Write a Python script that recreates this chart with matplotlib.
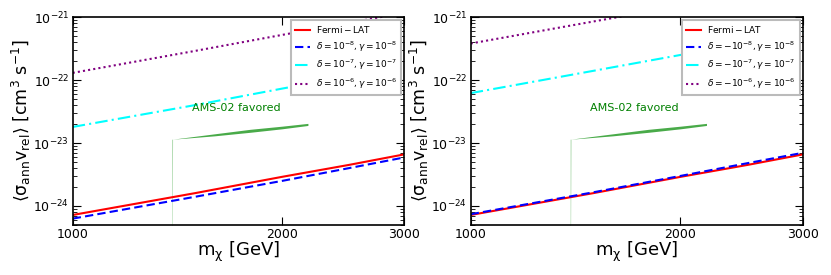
import numpy as np
import matplotlib
matplotlib.use("Agg")
import matplotlib.pyplot as plt
from matplotlib.ticker import FixedLocator, NullLocator, FixedFormatter, LogFormatterMathtext

# masses [GeV]
mass = [1000, 1500, 2000, 2500, 3000]

# left panel (delta > 0)
fermi = [7.2e-25, 1.6e-24, 2.9e-24, 4.5e-24, 6.6e-24]
left_d8 = [6.3e-25, 1.4e-24, 2.5e-24, 4.0e-24, 5.9e-24]
left_d7 = [1.8e-23, 4.0e-23, 7.3e-23, 1.15e-22, 1.7e-22]
left_d6 = [1.3e-22, 2.9e-22, 5.2e-22, 8.1e-22, 1.17e-21]

# right panel (delta < 0)
right_d8 = [7.4e-25, 1.65e-24, 3.0e-24, 4.8e-24, 7.0e-24]
right_d7 = [6.2e-23, 1.4e-22, 2.5e-22, 3.9e-22, 5.7e-22]
right_d6 = [3.8e-22, 8.5e-22, 1.5e-21, 2.4e-21, 3.4e-21]

# AMS-02 favored band
band_m = [1390, 1392, 1600, 1800, 2000, 2180]
band_lo = [1e-26, 1.15e-23, 1.3e-23, 1.48e-23, 1.68e-23, 1.9e-23]
band_hi = [1.15e-23, 1.15e-23, 1.4e-23, 1.65e-23, 1.85e-23, 2.05e-23]

xticks = [1000, 2000, 3000]
xticklabels = ["1000", "2000", "3000"]
yticks = [1e-24, 1e-23, 1e-22, 1e-21]

left_labels = [r"$\rm Fermi-LAT$",
               r"$\delta=10^{-8},\gamma=10^{-8}$",
               r"$\delta=10^{-7},\gamma=10^{-7}$",
               r"$\delta=10^{-6},\gamma=10^{-6}$"]
right_labels = [r"$\rm Fermi-LAT$",
                r"$\delta=-10^{-8},\gamma=10^{-8}$",
                r"$\delta=-10^{-7},\gamma=10^{-7}$",
                r"$\delta=-10^{-6},\gamma=10^{-6}$"]

fig = plt.figure(figsize=(8.31, 2.75), dpi=100)
ax1 = fig.add_axes([0.0875, 0.182, 0.399, 0.756])
ax2 = fig.add_axes([0.5664, 0.182, 0.400, 0.756])


def draw(ax, d8, d7, d6, labels):
    ax.fill_between(band_m, band_lo, band_hi, color="#3fa63f", lw=0, alpha=0.95)
    ax.text(1720, 3.6e-23, "AMS-02 favored", color="green", fontsize=8,
            ha="center", va="center")
    ax.plot(mass, fermi, color="red", lw=1.5, label=labels[0])
    ax.plot(mass, d8, color="blue", lw=1.5, ls=(0, (4, 2)), label=labels[1])
    ax.plot(mass, d7, color="cyan", lw=1.5, ls=(0, (6, 2, 1, 2)), label=labels[2])
    ax.plot(mass, d6, color="purple", lw=1.5, ls=(0, (1, 1.5)), label=labels[3])
    ax.set_xscale("log")
    ax.set_yscale("log")
    ax.set_xlim(1000, 3000)
    ax.set_ylim(5e-25, 1e-21)
    ax.xaxis.set_major_locator(FixedLocator(xticks))
    ax.xaxis.set_major_formatter(FixedFormatter(xticklabels))
    ax.xaxis.set_minor_locator(NullLocator())
    ax.yaxis.set_major_locator(FixedLocator(yticks))
    ax.yaxis.set_major_formatter(LogFormatterMathtext())
    minor = [k * 10.0 ** e for e in (-25, -24, -23, -22) for k in range(2, 10)]
    minor = [v for v in minor if 5e-25 <= v <= 1e-21]
    ax.yaxis.set_minor_locator(FixedLocator(minor))
    ax.tick_params(which="both", direction="in", top=True, right=True, labelsize=9)
    ax.tick_params(which="major", length=6, width=0.8, pad=2.5)
    ax.tick_params(which="minor", length=3, width=0.6)
    for s in ax.spines.values():
        s.set_linewidth(1.2)
    ax.set_xlabel(r"$\mathregular{m_\chi}$ [GeV]", fontsize=13, labelpad=-1)
    ax.set_ylabel(r"$\mathregular{\langle\sigma_{ann}v_{rel}\rangle\ [cm^3\ s^{-1}]}$",
                  fontsize=12.5, labelpad=0)
    leg = ax.legend(loc="upper right", fontsize=6.5, handlelength=1.6,
                    fancybox=False, framealpha=1, borderaxespad=0.35,
                    labelspacing=0.45, borderpad=0.45, handletextpad=0.7)
    leg.get_frame().set_edgecolor("#bbbbbb")
    leg.get_frame().set_linewidth(1.5)


draw(ax1, left_d8, left_d7, left_d6, left_labels)
draw(ax2, right_d8, right_d7, right_d6, right_labels)

fig.savefig("out.png", dpi=100)
